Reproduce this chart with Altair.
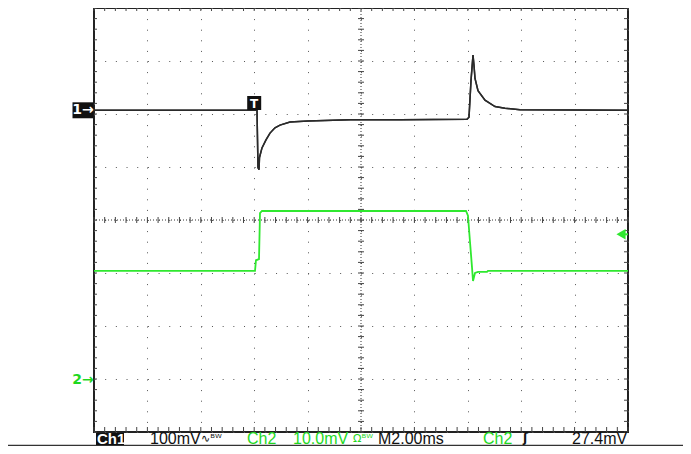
import altair as alt
import numpy as np
import pandas as pd

# ---------------- scope settings (from the status line) ----------------
TIME_PER_DIV_MS = 2.0
N_HDIV, N_VDIV = 10, 8
TRIGGER_DIV = 3
CH1_MV_PER_DIV = 100.0
CH2_MV_PER_DIV = 10.0
CH1_POS_DIV = 2.07
CH2_POS_DIV = -3.01
TRIG_LEVEL_MV = 27.4

# ---------------- Ch1 trace: time (ms from trigger), mV ----------------
ch1_t = [-6.0, 0.105, 0.142, 0.180, 0.198, 0.292, 0.442, 0.592, 0.779, 0.966,
         1.341, 2.015, 3.588, 5.460, 7.970, 8.045, 8.120, 8.195, 8.230, 8.270,
         8.382, 8.644, 9.019, 9.393, 9.955, 14.0]
ch1_mv = [0, 0, -108, -112, -89, -71, -56, -43, -33, -28,
          -22, -20, -18, -18, -17, -13, 56, 104, 86, 60,
          37, 19, 7, 4, 1, 0]

# ---------------- Ch2 trace: time (ms from trigger), mV ----------------
ch2_t = [-6.0, 0.030, 0.067, 0.180, 0.217, 0.292, 7.933, 8.007, 8.082, 8.157,
         8.195, 8.270, 8.382, 8.719, 8.756, 14.0]
ch2_mv = [20.5, 20.5, 22.5, 22.7, 31.4, 31.8, 31.8, 30.9, 26.0, 21.2,
          18.6, 20.1, 20.3, 20.3, 20.5, 20.5]

# ---------------- status line texts ----------------
status_ch1 = "Ch1"
status_ch1_scale = "100mV"
status_ch1_bw = "∿ᴮᵂ"
status_ch2 = "Ch2"
status_ch2_scale = "10.0mV"
status_ch2_bw = "Ωᴮᵂ"
status_time = "M2.00ms"
status_trig_src = "Ch2"
status_trig_edge = "ʃ"
status_trig_level = "27.4mV"

# ---------------- layout / style ----------------
W, H = 534, 424
GREEN_TRACE = "#2fe82f"
GREEN_TEXT = "#1fd81f"
BLACK = "#111111"
GRID = "#555555"
FONT = "Liberation Sans"
TEXT_Y = 431

t_min = -TRIGGER_DIV * TIME_PER_DIV_MS
t_max = (N_HDIV - TRIGGER_DIV) * TIME_PER_DIV_MS
t_center = (t_min + t_max) / 2
y_half = N_VDIV / 2

x_scale = alt.Scale(domain=[t_min, t_max], nice=False, zero=False)
y_scale = alt.Scale(domain=[-y_half, y_half], nice=False, zero=False)
x_axis = alt.Axis(values=[float(v) for v in np.arange(t_min, t_max + 1e-9, TIME_PER_DIV_MS)],
                  grid=True, gridDash=[1, H / (N_VDIV * 5) - 1], gridColor=GRID,
                  gridOpacity=1, gridWidth=1, labels=False, ticks=False, domain=False, title=None)
y_axis = alt.Axis(values=[float(v) for v in np.arange(-y_half, y_half + 1e-9, 1.0)],
                  grid=True, gridDash=[1, W / (N_HDIV * 5) - 1], gridColor=GRID,
                  gridOpacity=1, gridWidth=1, labels=False, ticks=False, domain=False, title=None)


def X(f):
    return alt.X(f, type="quantitative", scale=x_scale, axis=x_axis)


def Y(f):
    return alt.Y(f, type="quantitative", scale=y_scale, axis=y_axis)


ch1 = pd.DataFrame({"t": ch1_t, "y": [CH1_POS_DIV + v / CH1_MV_PER_DIV for v in ch1_mv]})
ch2 = pd.DataFrame({"t": ch2_t, "y": [CH2_POS_DIV + v / CH2_MV_PER_DIV for v in ch2_mv]})
xm = pd.DataFrame({"t": np.round(np.arange(t_min, t_max + 1e-9, TIME_PER_DIV_MS / 5), 6)})
ym = pd.DataFrame({"y": np.round(np.arange(-y_half, y_half + 1e-9, 0.2), 6)})
one = pd.DataFrame({"k": [0]})

layers = []

# first layer carries the dotted graticule axes
layers.append(alt.Chart(ch1).mark_line(color="#2a2a2a", strokeWidth=1.5, interpolate="linear")
              .encode(x=X("t"), y=Y("y"), order="t:Q"))

# centre cross
layers.append(alt.Chart(pd.DataFrame({"t": [t_center]})).mark_rule(color="#333", strokeDash=[1, 2], strokeWidth=1)
              .encode(x=X("t")))
layers.append(alt.Chart(pd.DataFrame({"y": [0.0]})).mark_rule(color="#333", strokeDash=[1, 2], strokeWidth=1)
              .encode(y=Y("y")))

# graticule minor ticks
tick_col = "#444"
layers.append(alt.Chart(xm).mark_rule(color=tick_col).encode(x=X("t"), y=alt.value(0), y2=alt.value(3)))
layers.append(alt.Chart(xm).mark_rule(color=tick_col).encode(x=X("t"), y=alt.value(H - 5), y2=alt.value(H)))
layers.append(alt.Chart(xm).mark_rule(color=tick_col).encode(x=X("t"), y=alt.value(H / 2 - 3), y2=alt.value(H / 2 + 3)))
layers.append(alt.Chart(ym).mark_rule(color=tick_col).encode(y=Y("y"), x=alt.value(0), x2=alt.value(3)))
layers.append(alt.Chart(ym).mark_rule(color=tick_col).encode(y=Y("y"), x=alt.value(W - 4), x2=alt.value(W)))
layers.append(alt.Chart(ym).mark_rule(color=tick_col).encode(y=Y("y"), x=alt.value(W / 2 - 3), x2=alt.value(W / 2 + 3)))

# traces
layers.append(alt.Chart(ch2).mark_line(color=GREEN_TRACE, strokeWidth=1.8, interpolate="linear")
              .encode(x=X("t"), y=Y("y"), order="t:Q"))
layers.append(alt.Chart(ch1).mark_line(color="#2a2a2a", strokeWidth=1.5, interpolate="linear")
              .encode(x=X("t"), y=Y("y"), order="t:Q"))

# channel ground markers
m1 = pd.DataFrame({"y": [CH1_POS_DIV], "lbl": ["1→"]})
layers.append(alt.Chart(m1).mark_point(shape="M-1,-0.76L1,-0.76L1,0.76L-1,0.76Z", size=441, filled=True,
                                       color="#111", opacity=1)
              .encode(y=Y("y"), x=alt.value(-11)))
layers.append(alt.Chart(m1).mark_text(color="white", fontSize=14, fontWeight="bold", font="DejaVu Sans",
                                      baseline="middle", align="center")
              .encode(y=Y("y"), x=alt.value(-11), text="lbl:N"))
m2 = pd.DataFrame({"y": [CH2_POS_DIV], "lbl": ["2→"]})
layers.append(alt.Chart(m2).mark_text(color=GREEN_TEXT, fontSize=14, fontWeight="bold", font="DejaVu Sans",
                                      baseline="middle", align="center")
              .encode(y=Y("y"), x=alt.value(-11), text="lbl:N"))

# trigger position marker
mt = pd.DataFrame({"t": [0.0], "lbl": ["T"]})
layers.append(alt.Chart(mt).mark_point(shape="square", size=196, filled=True, color="#111", opacity=1)
              .encode(x=X("t"), y=alt.value(95)))
layers.append(alt.Chart(mt).mark_text(color="white", fontSize=12, fontWeight="bold", font="DejaVu Sans",
                                      baseline="middle", align="center")
              .encode(x=X("t"), y=alt.value(95.5), text="lbl:N"))

# trigger level marker
ml = pd.DataFrame({"y": [CH2_POS_DIV + TRIG_LEVEL_MV / CH2_MV_PER_DIV]})
layers.append(alt.Chart(ml).mark_rule(color=GREEN_TRACE, strokeWidth=2)
              .encode(y=Y("y"), x=alt.value(527), x2=alt.value(W)))
layers.append(alt.Chart(ml).mark_point(shape="triangle-left", size=110, filled=True, color=GREEN_TRACE, opacity=1)
              .encode(y=Y("y"), x=alt.value(527)))

# outer frame bottom line
layers.append(alt.Chart(one).mark_rule(color="#333", strokeWidth=1.5)
              .encode(x=alt.value(-86), x2=alt.value(W + 55), y=alt.value(437.5)))

# status line
layers.append(alt.Chart(one).mark_rect(color="#111")
              .encode(x=alt.value(2), x2=alt.value(30), y=alt.value(425), y2=alt.value(437)))


def label(txt, x, color, size=16, weight="normal", font=FONT, y=TEXT_Y):
    return (alt.Chart(pd.DataFrame({"lbl": [txt]}))
            .mark_text(color=color, fontSize=size, fontWeight=weight, font=font,
                       align="left", baseline="middle")
            .encode(x=alt.value(x), y=alt.value(y), text="lbl:N"))


layers.append(label(status_ch1, 3, "white", 15, "bold"))
layers.append(label(status_ch1_scale, 56, BLACK))
layers.append(label(status_ch1_bw, 107, BLACK, 11, font="DejaVu Sans"))
layers.append(label(status_ch2, 153, GREEN_TEXT))
layers.append(label(status_ch2_scale, 199, GREEN_TEXT))
layers.append(label(status_ch2_bw, 259, GREEN_TEXT, 11, font="DejaVu Sans"))
layers.append(label(status_time, 284, BLACK))
layers.append(label(status_trig_src, 389, GREEN_TEXT))
layers.append(label(status_trig_edge, 429, BLACK, 12, "bold", "DejaVu Sans", TEXT_Y - 1))
layers.append(label(status_trig_level, 478, BLACK))

chart = (alt.layer(*layers)
         .properties(width=W, height=H, autosize=alt.AutoSizeParams(type="none"),
                     padding={"left": 86, "top": 0, "right": 55, "bottom": 14}, background="white")
         .configure_view(stroke="#222", strokeWidth=2))

chart.save("out.html", embed_options={"renderer": "svg", "actions": False})
